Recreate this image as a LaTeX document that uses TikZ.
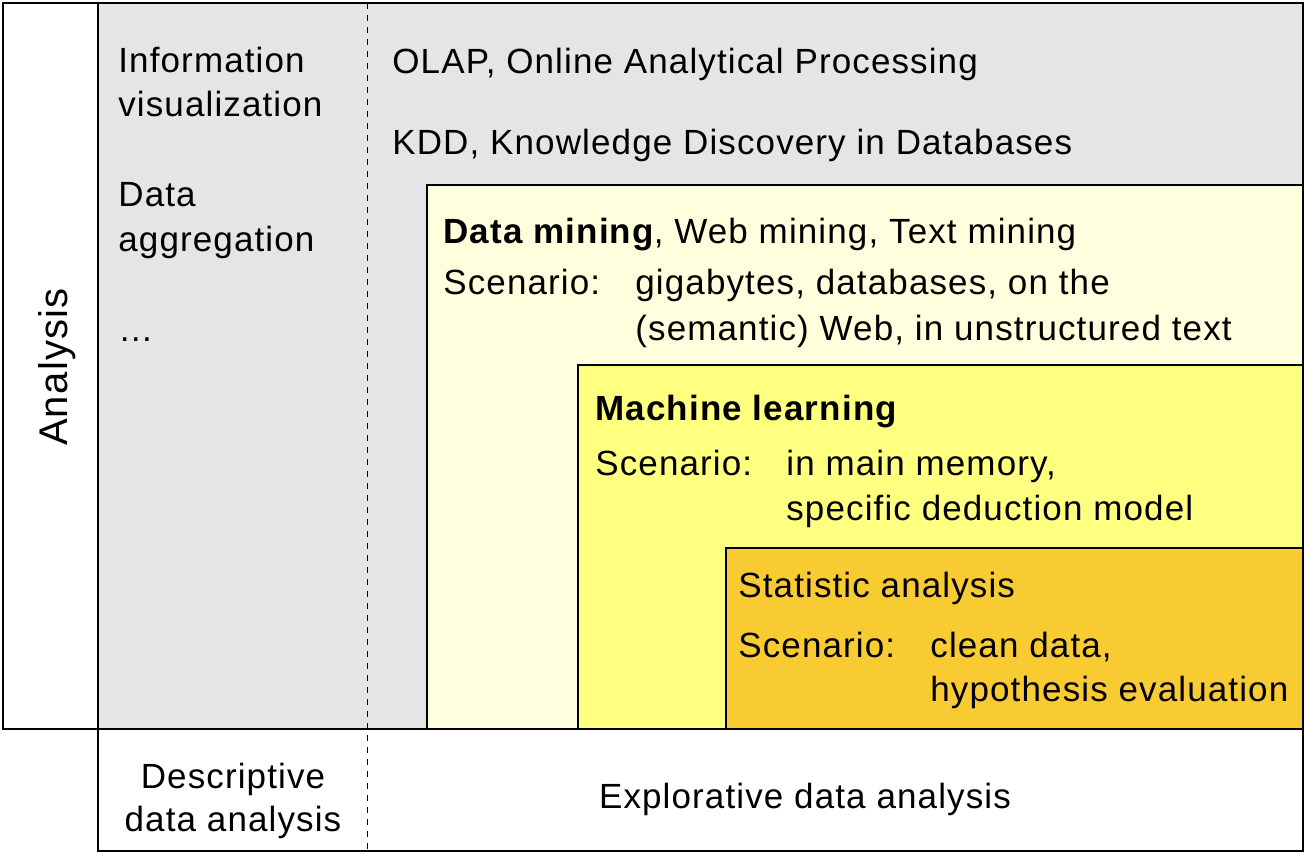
\documentclass[tikz,border=0pt]{standalone}
\usepackage{fontspec}
\setmainfont[LetterSpace=3.2]{Liberation Sans}
\definecolor{grayarea}{HTML}{E5E5E5}
\definecolor{minefill}{HTML}{FFFFDE}
\definecolor{learnfill}{HTML}{FFFF80}
\definecolor{statfill}{HTML}{F9CB33}

\begin{document}
\begin{tikzpicture}[x=0.5pt,y=-0.5pt,
	txt/.style={anchor=base west,inner sep=0pt,font=\fontsize{17.5}{22.5}\selectfont},
	ctxt/.style={txt,anchor=base},
	frame/.style={line width=1pt},
	inner/.style={line width=0.75pt}]
	\useasboundingbox (0,0) rectangle (1305,853);
	
	%AREAS
	\fill[grayarea] (98,3) rectangle (1303,729);
	\filldraw[fill=minefill,inner] (1303,185)--(427,185)--(427,729)--(1303,729);		%data mining
	\filldraw[fill=learnfill,inner] (1303,365)--(578,365)--(578,729)--(1303,729);		%machine learning
	\filldraw[fill=statfill,inner] (1303,548)--(726,548)--(726,729)--(1303,729);		%statistics
	
	%FRAME
	\draw[frame] (3,3) rectangle (1303,729);
	\draw[frame] (98,3)--(98,851)--(1303,851)--(1303,729);
	\draw[dash pattern=on 3pt off 3pt,line width=0.4pt] (367,3)--(367,851);
	
	%LABELS -- LEFT COLUMN
	\foreach \t/\y [count=\i] in {Information/72,visualization/116,Data/206,aggregation/251}
	\node[txt] (left\i) at (118,\y) {\t};
	\node[txt] (leftdots) at (118,341) {\dots};
	\node[ctxt,rotate=90,font=\fontsize{20}{24}\selectfont] (analysis) at (67,367) {Analysis};
	
	%LABELS -- GRAY AREA
	\node[txt] (olap) at (392,73) {OLAP, Online Analytical Processing};
	\node[txt] (kdd) at (392,154) {KDD, Knowledge Discovery in Databases};
	
	%LABELS -- DATA MINING
	\node[txt] (mine) at (443,243) {\textbf{Data mining}, Web mining, Text mining};
	\node[txt] (minescen) at (443,294) {Scenario:};
	\node[txt] (mineA) at (635,294) {gigabytes, databases, on the};
	\node[txt] (mineB) at (635,340) {(semantic) Web, in unstructured text};
	
	%LABELS -- MACHINE LEARNING
	\node[txt] (learn) at (595,420) {\textbf{Machine learning}};
	\node[txt] (learnscen) at (595,475) {Scenario:};
	\node[txt] (learnA) at (786,475) {in main memory,};
	\node[txt] (learnB) at (786,520) {specific deduction model};
	
	%LABELS -- STATISTICS
	\node[txt] (stat) at (738,597) {Statistic analysis};
	\node[txt] (statscen) at (738,657) {Scenario:};
	\node[txt] (statA) at (930,657) {clean data,};
	\node[txt] (statB) at (930,701) {hypothesis evaluation};
	
	%LABELS -- BOTTOM ROW
	\node[ctxt] (descA) at (233,788) {Descriptive};
	\node[ctxt] (descB) at (233,831) {data analysis};
	\node[ctxt] (explo) at (805,808) {Explorative data analysis};
\end{tikzpicture}
\end{document}
